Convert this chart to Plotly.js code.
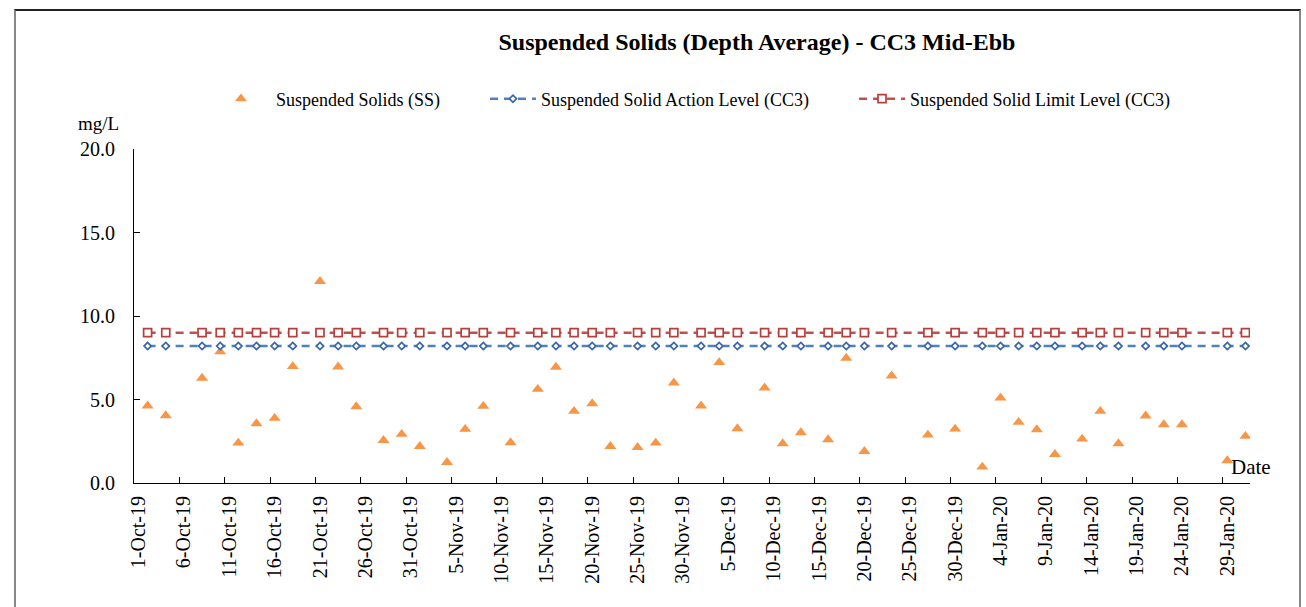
<!DOCTYPE html>
<html>
<head>
<meta charset="utf-8">
<script src="https://cdn.plot.ly/plotly-3.0.1.min.js"></script>
<style>
  body { margin: 0; background: #ffffff; }
  #frame { position: absolute; left: 14px; top: 9px; width: 1283px; height: 640px;
           border-top: 2px solid #222; border-left: 2px solid #888; border-right: 2px solid #888; }
  #chart { position: absolute; left: 0; top: 0; width: 1306px; height: 607px; }
</style>
</head>
<body>
<div id="frame"></div>
<div id="chart"></div>
<script>
// ---- data ----
const sampleDates = [
  '2019-10-02','2019-10-04','2019-10-08','2019-10-10','2019-10-12','2019-10-14','2019-10-16','2019-10-18',
  '2019-10-21','2019-10-23','2019-10-25','2019-10-28','2019-10-30','2019-11-01','2019-11-04','2019-11-06',
  '2019-11-08','2019-11-11','2019-11-14','2019-11-16','2019-11-18','2019-11-20','2019-11-22','2019-11-25',
  '2019-11-27','2019-11-29','2019-12-02','2019-12-04','2019-12-06','2019-12-09','2019-12-11','2019-12-13',
  '2019-12-16','2019-12-18','2019-12-20','2019-12-23','2019-12-27','2019-12-30','2020-01-02','2020-01-04',
  '2020-01-06','2020-01-08','2020-01-10','2020-01-13','2020-01-15','2020-01-17','2020-01-20','2020-01-22',
  '2020-01-24','2020-01-29','2020-01-31'
];
const ssValues = [
  4.62, 4.04, 6.28, 7.86, 2.40, 3.56, 3.88, 6.98,
  12.08, 6.96, 4.58, 2.56, 2.92, 2.20, 1.24, 3.22,
  4.60, 2.42, 5.62, 6.94, 4.30, 4.76, 2.20, 2.14,
  2.40, 6.00, 4.62, 7.22, 3.26, 5.70, 2.36, 3.02,
  2.60, 7.48, 1.90, 6.42, 2.88, 3.24, 0.96, 5.10,
  3.64, 3.20, 1.72, 2.64, 4.30, 2.36, 4.02, 3.50,
  3.50, 1.34, 2.80
];
const actionLevel = [
  8.2, 8.2, 8.2, 8.2, 8.2, 8.2, 8.2, 8.2, 8.2, 8.2, 8.2, 8.2, 8.2, 8.2, 8.2, 8.2, 8.2,
  8.2, 8.2, 8.2, 8.2, 8.2, 8.2, 8.2, 8.2, 8.2, 8.2, 8.2, 8.2, 8.2, 8.2, 8.2, 8.2, 8.2,
  8.2, 8.2, 8.2, 8.2, 8.2, 8.2, 8.2, 8.2, 8.2, 8.2, 8.2, 8.2, 8.2, 8.2, 8.2, 8.2, 8.2
];
const limitLevel = [
  9.0, 9.0, 9.0, 9.0, 9.0, 9.0, 9.0, 9.0, 9.0, 9.0, 9.0, 9.0, 9.0, 9.0, 9.0, 9.0, 9.0,
  9.0, 9.0, 9.0, 9.0, 9.0, 9.0, 9.0, 9.0, 9.0, 9.0, 9.0, 9.0, 9.0, 9.0, 9.0, 9.0, 9.0,
  9.0, 9.0, 9.0, 9.0, 9.0, 9.0, 9.0, 9.0, 9.0, 9.0, 9.0, 9.0, 9.0, 9.0, 9.0, 9.0, 9.0
];
const tickDates = [
  '2019-10-01','2019-10-06','2019-10-11','2019-10-16','2019-10-21','2019-10-26','2019-10-31',
  '2019-11-05','2019-11-10','2019-11-15','2019-11-20','2019-11-25','2019-11-30',
  '2019-12-05','2019-12-10','2019-12-15','2019-12-20','2019-12-25','2019-12-30',
  '2020-01-04','2020-01-09','2020-01-14','2020-01-19','2020-01-24','2020-01-29'
];
const tickLabels = [
  '1-Oct-19','6-Oct-19','11-Oct-19','16-Oct-19','21-Oct-19','26-Oct-19','31-Oct-19',
  '5-Nov-19','10-Nov-19','15-Nov-19','20-Nov-19','25-Nov-19','30-Nov-19',
  '5-Dec-19','10-Dec-19','15-Dec-19','20-Dec-19','25-Dec-19','30-Dec-19',
  '4-Jan-20','9-Jan-20','14-Jan-20','19-Jan-20','24-Jan-20','29-Jan-20'
];
const seriesNames = ['Suspended Solids (SS)', 'Suspended Solid Action Level (CC3)', 'Suspended Solid Limit Level (CC3)'];
const chartTitle = 'Suspended Solids (Depth Average) - CC3 Mid-Ebb';

// ---- axis helpers (Excel date axis: tick marks sit on day boundaries) ----
const HALF_DAY = 12 * 3600 * 1000;
function shiftIso(d, ms) {
  const t = new Date(d + 'T00:00:00Z').getTime() + ms;
  return new Date(t).toISOString().replace('T', ' ').slice(0, 19);
}
const tickBoundaries = tickDates.map(d => shiftIso(d, -HALF_DAY));
const xRange = [shiftIso('2019-10-01', -HALF_DAY), shiftIso('2020-01-31', HALF_DAY)];

const FONT = 'Liberation Serif, Times New Roman, serif';

const traces = [
  {
    x: sampleDates, y: ssValues, name: seriesNames[0], type: 'scatter', mode: 'markers',
    marker: { symbol: 'triangle-up', size: 10.5, color: '#F79646', line: { width: 0 } },
    legend: 'legend'
  },
  {
    x: sampleDates, y: actionLevel, name: seriesNames[1], type: 'scatter', mode: 'lines+markers',
    line: { color: '#4F81BD', width: 2.5, dash: '8px,6px' },
    marker: { symbol: 'diamond', size: 5.5, color: '#FFFFFF', line: { color: '#3A67A8', width: 1.7 } },
    legend: 'legend2'
  },
  {
    x: sampleDates, y: limitLevel, name: seriesNames[2], type: 'scatter', mode: 'lines+markers',
    line: { color: '#C0504D', width: 2.5, dash: '8px,6px' },
    marker: { symbol: 'square', size: 8, color: '#FFFFFF', line: { color: '#B3403D', width: 1.7 } },
    legend: 'legend3'
  },
  { x: [], y: [], xaxis: 'x2', showlegend: false, hoverinfo: 'skip', type: 'scatter', mode: 'markers' }
];

const legendCommon = {
  orientation: 'h', yanchor: 'middle', y: 1.1497, xanchor: 'left',
  font: { family: FONT, size: 18, color: '#000' }, bgcolor: 'rgba(0,0,0,0)', borderwidth: 0
};

const layout = {
  width: 1306, height: 607,
  margin: { l: 134, r: 56, t: 149, b: 124, pad: 0 },
  paper_bgcolor: 'rgba(0,0,0,0)', plot_bgcolor: 'rgba(0,0,0,0)',
  font: { family: FONT, color: '#000' },
  title: {
    text: chartTitle, x: 0.5796, xanchor: 'center', y: 0.931, yanchor: 'middle',
    xref: 'container', yref: 'container',
    font: { family: FONT, size: 24, weight: 'bold', color: '#000' }
  },
  xaxis: {
    type: 'date', range: xRange, tickmode: 'array', tickvals: tickDates, ticktext: tickLabels,
    tickangle: -90, ticks: '', showline: true, linecolor: '#000', linewidth: 1,
    showgrid: false, zeroline: false, ticklabelstandoff: 4,
    tickfont: { family: FONT, size: 20, color: '#000' }, fixedrange: true
  },
  xaxis2: {
    type: 'date', range: xRange, overlaying: 'x', anchor: 'y', side: 'bottom',
    tickmode: 'array', tickvals: tickBoundaries, ticks: 'inside', ticklen: 6, tickcolor: '#000',
    tickwidth: 1, showticklabels: false, showline: false, showgrid: false, zeroline: false
  },
  yaxis: {
    range: [0, 20], dtick: 5, tick0: 0, tickformat: '.1f', ticks: 'inside', ticklen: 6,
    tickcolor: '#000', showline: true, linecolor: '#000', linewidth: 1, showgrid: false,
    zeroline: false, ticklabelstandoff: 14,
    tickfont: { family: FONT, size: 20, color: '#000' }, fixedrange: true
  },
  legend: Object.assign({}, legendCommon, { x: 0.0645, itemwidth: 60 }),
  legend2: Object.assign({}, legendCommon, { x: 0.3145, itemwidth: 46 }),
  legend3: Object.assign({}, legendCommon, { x: 0.6452, itemwidth: 46 }),
  annotations: [
    { text: 'mg/L', xref: 'paper', yref: 'paper', x: -0.0314, y: 1.0749, xanchor: 'center', yanchor: 'middle',
      showarrow: false, font: { family: FONT, size: 19, color: '#000' } },
    { text: 'Date', xref: 'paper', yref: 'paper', x: 1.0009, y: 0.0479, xanchor: 'center', yanchor: 'middle',
      showarrow: false, font: { family: FONT, size: 21, color: '#000' } }
  ],
  showlegend: true
};

Plotly.newPlot('chart', traces, layout, { displayModeBar: false, staticPlot: true });
</script>
</body>
</html>
